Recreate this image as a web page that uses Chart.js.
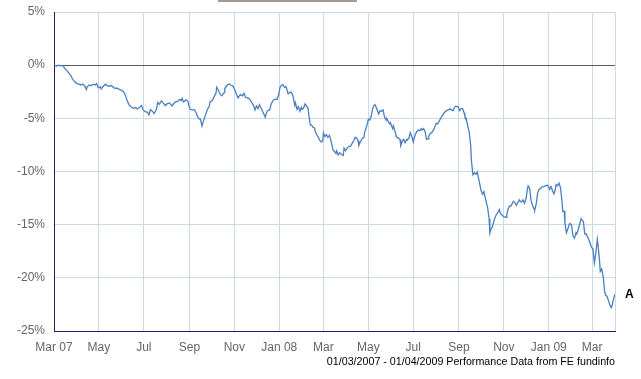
<!DOCTYPE html>
<html><head><meta charset="utf-8">
<script src="https://cdn.jsdelivr.net/npm/chart.js@4.4.1/dist/chart.umd.min.js"></script>
<style>html,body{margin:0;padding:0;background:#fff;overflow:hidden}canvas{display:block}</style>
</head><body>
<canvas id="c" width="641" height="379"></canvas>
<script>
// Days since 01/03/2007
const days = [0,4,6,9,12,15,17,20,23,25,28,31,34,36,39,42,44,45,48,51,53,56,58,60,63,64,67,70,72,75,78,81,83,86,89,92,94,96,98,100,102,105,108,111,113,116,119,121,124,127,129,131,134,136,139,141,143,146,149,151,154,157,
160,163,165,168,171,173,174,176,179,182,183,185,188,191,193,195,197,199,201,202,204,206,208,211,212,215,218,220,221,223,226,228,231,232,235,238,240,243,246,249,250,253,256,258,260,263,266,269,271,273,275,277,279,282,285,287,288,290,293,295,298,300,303,305,307,
309,311,313,315,317,318,320,322,324,325,327,328,330,332,334,336,337,339,341,343,345,346,348,350,352,354,355,357,359,361,363,365,366,368,370,372,374,375,377,379,381,383,384,386,388,390,393,394,396,398,400,403,405,407,409,411,413,414,416,419,421,422,425,427,429,431,432,434,436,438,440,441,443,445,447,449,451,452,454,456,457,
458,460,461,463,465,468,470,471,473,475,477,479,480,482,484,486,488,489,491,493,495,497,499,500,502,504,506,508,509,511,513,516,518,519,521,523,525,527,528,530,533,536,538,540,542,544,546,547,549,551,553,555,557,558,560,562,564,566,567,569,571,573,575,576,578,580,582,584,585,587,589,591,592,594,595,597,599,601,603,605,606,
608,611,614,615,617,619,621,623,624,626,628,630,632,633,635,637,639,641,643,644,646,648,650,652,653,655,657,659,661,662,665,667,670,671,673,675,677,679,681,682,684,686,688,690,691,693,694,696,698,700,701,703,705,707,709,710,712,714,716,718,719,721,723,725,727,729,730,732,734,736,738,739,741,742,744,746,748,749,751,753,755,757,758,760,762];
// Cumulative performance, %
const fundValues = [0,-0.09,0,-0.07,-0.03,-0.35,-0.47,-0.72,-0.97,-1.29,-1.54,-1.73,-1.79,-1.86,-1.79,-1.98,-2.30,-2.04,-1.86,-1.92,-1.79,-1.86,-1.73,-2.11,-2.04,-2.23,-1.98,-1.79,-1.92,-1.98,-1.92,-2.11,-2.17,-2.17,-2.30,-2.36,-2.48,-2.67,-3.05,-3.43,-3.74,-3.93,-4.06,-3.99,-4.12,-3.99,-3.80,-4.18,-4.37,-4.43,-4.69,-4.18,-4.37,-4.56,-4.18,-3.49,-3.68,-3.36,-3.62,-3.80,-3.62,-3.55,
-3.84,-3.58,-3.46,-3.40,-3.21,-3.33,-3.14,-3.46,-3.27,-3.40,-3.77,-4.15,-4.21,-4.21,-4.47,-4.84,-5.03,-5.09,-5.72,-5.47,-5.03,-4.65,-4.21,-3.84,-3.46,-3.33,-2.89,-2.64,-2.08,-2.33,-2.77,-2.89,-2.58,-2.20,-1.89,-1.76,-1.89,-1.95,-2.39,-2.96,-3.08,-2.77,-2.89,-2.64,-3.02,-3.08,-3.21,-3.58,-3.77,-4.21,-3.84,-4.09,-3.71,-4.15,-4.59,-4.91,-4.59,-4.28,-4.21,-3.65,-3.27,-3.21,-3.21,-2.83,-2.08,
-1.89,-1.82,-2.08,-2.01,-2.45,-2.70,-2.58,-2.52,-2.77,-3.02,-3.77,-3.52,-4.15,-3.90,-4.34,-3.96,-4.15,-4.03,-3.65,-3.84,-4.03,-4.59,-5.60,-5.66,-5.85,-5.91,-6.29,-6.54,-6.79,-7.04,-7.23,-7.11,-6.35,-6.73,-6.54,-6.79,-6.60,-6.79,-7.36,-7.99,-8.11,-8.30,-8.05,-8.43,-8.24,-8.36,-8.49,-7.80,-8.05,-7.80,-7.67,-7.61,-7.36,-7.11,-6.79,-6.86,-7.11,-7.55,-7.23,-6.86,-6.79,-6.29,-5.66,-5.09,-5.16,-4.78,-4.34,-3.84,-3.71,-4.03,-4.40,-4.59,-4.28,-4.34,-4.21,-4.91,-5.16,-5.03,-5.28,-5.53,-5.41,
-5.60,-5.97,-5.72,-6.16,-6.73,-6.86,-6.98,-7.55,-7.17,-6.98,-7.29,-6.98,-7.04,-6.86,-6.35,-6.73,-7.23,-6.92,-6.48,-6.23,-6.10,-6.16,-5.97,-6.10,-5.97,-6.23,-6.98,-6.92,-6.67,-6.42,-6.35,-6.04,-5.66,-5.47,-5.53,-5.28,-5.03,-4.78,-4.72,-4.47,-4.28,-4.21,-4.09,-4.21,-4.28,-3.96,-3.84,-3.90,-3.90,-4.28,-4.09,-4.09,-4.47,-4.78,-5.03,-5.72,-6.29,-7.55,-8.99,-10.31,-10.12,-10.25,-10.06,-10.44,-11.07,-11.76,-12.14,-11.89,-12.26,-12.83,-13.40,-14.47,-15.79,-15.35,-15.28,-14.78,-14.34,-14.03,-13.84,-13.58,-13.90,
-14.06,-14.25,-14.31,-14.06,-13.49,-13.24,-13.24,-12.92,-12.80,-12.92,-13.18,-12.92,-12.67,-12.80,-12.86,-12.67,-12.99,-12.61,-11.67,-11.35,-11.60,-12.74,-13.18,-13.55,-13.62,-13.05,-11.98,-11.67,-11.60,-11.48,-11.42,-11.35,-11.29,-11.35,-11.67,-11.42,-11.79,-12.11,-11.67,-11.23,-11.35,-11.10,-11.54,-12.80,-13.74,-13.74,-14.88,-15.75,-15.38,-14.94,-14.88,-15.06,-16.07,-16.26,-15.75,-15.88,-15.50,-14.94,-14.43,-14.62,-14.69,-15.88,-15.88,-16.19,-16.51,-16.89,-17.14,-17.26,-18.58,-17.64,-16.38,-16.95,-18.40,-19.40,-19.15,-19.91,-21.35,-21.60,-21.73,-22.10,-22.55,-22.80,-22.61,-21.98,-21.54];

const tickDays = [0,61,122,184,245,306,366,427,488,550,611,672,731,762];
const tickLabels = ['Mar 07','May','Jul','Sep','Nov','Jan 08','Mar','May','Jul','Sep','Nov','Jan 09','Mar',''];
const yTicks = [-25,-20,-15,-10,-5,0,5];
const seriesLabel = 'A';
const footerText = '01/03/2007 - 01/04/2009 Performance Data from FE fundinfo';

const points = days.map((d, i) => ({x: d, y: fundValues[i]}));

const extras = {
  id: 'extras',
  afterDatasetsDraw(chart) {
    const ctx = chart.ctx, xs = chart.scales.x, ys = chart.scales.y, area = chart.chartArea;
    const last = days.length - 1;
    const px = xs.getPixelForValue(days[last]);
    const py = ys.getPixelForValue(fundValues[last]);
    ctx.save();
    ctx.fillStyle = '#000';
    ctx.textBaseline = 'middle';
    ctx.textAlign = 'left';
    ctx.font = 'bold 12px "Liberation Sans", Arial, sans-serif';
    ctx.fillText(seriesLabel, px + 10, py);
    ctx.font = '10.7px "Liberation Sans", Arial, sans-serif';
    ctx.textAlign = 'right';
    ctx.fillText(footerText, area.right, area.bottom + 31);
    // bottom edge of legend box (cut off at top)
    ctx.fillStyle = '#a29d92';
    ctx.fillRect(218, 0, 139, 2);
    ctx.restore();
  }
};

Chart.defaults.font.family = '"Liberation Sans", Arial, sans-serif';
Chart.defaults.font.size = 12;
Chart.defaults.color = '#666';

new Chart(document.getElementById('c'), {
  type: 'line',
  data: {
    datasets: [{
      label: seriesLabel,
      data: points,
      borderColor: '#4a7fc1',
      borderWidth: 1.3,
      pointRadius: 0,
      tension: 0,
      fill: false
    }]
  },
  options: {
    responsive: false,
    animation: false,
    layout: {padding: {top: 12, right: 26, left: 0, bottom: 0}},
    plugins: {legend: {display: false}, tooltip: {enabled: false}},
    scales: {
      x: {
        type: 'linear',
        min: 0,
        max: 762,
        afterBuildTicks: s => { s.ticks = tickDays.map(v => ({value: v})); },
        afterFit: s => { s.height = 48; },
        ticks: {
          autoSkip: false,
          maxRotation: 0,
          padding: 9,
          color: '#666',
          callback: v => tickLabels[tickDays.indexOf(v)]
        },
        grid: {color: '#c9dbe6', lineWidth: 1, drawTicks: false},
        border: {color: '#1d1d6b', width: 1}
      },
      y: {
        min: -25,
        max: 5,
        afterBuildTicks: s => { s.ticks = yTicks.map(v => ({value: v})); },
        afterFit: s => { s.width = 54; s.paddingTop = 0; s.paddingBottom = 0; },
        ticks: {padding: 9, color: '#666', callback: v => v + '%'},
        grid: {
          color: c => (c.tick && c.tick.value === 0) ? '#5a5a5a' : '#c9dbe6',
          lineWidth: 1,
          drawTicks: false
        },
        border: {color: '#1d1d6b', width: 1}
      }
    }
  },
  plugins: [extras]
});
</script>
</body></html>
